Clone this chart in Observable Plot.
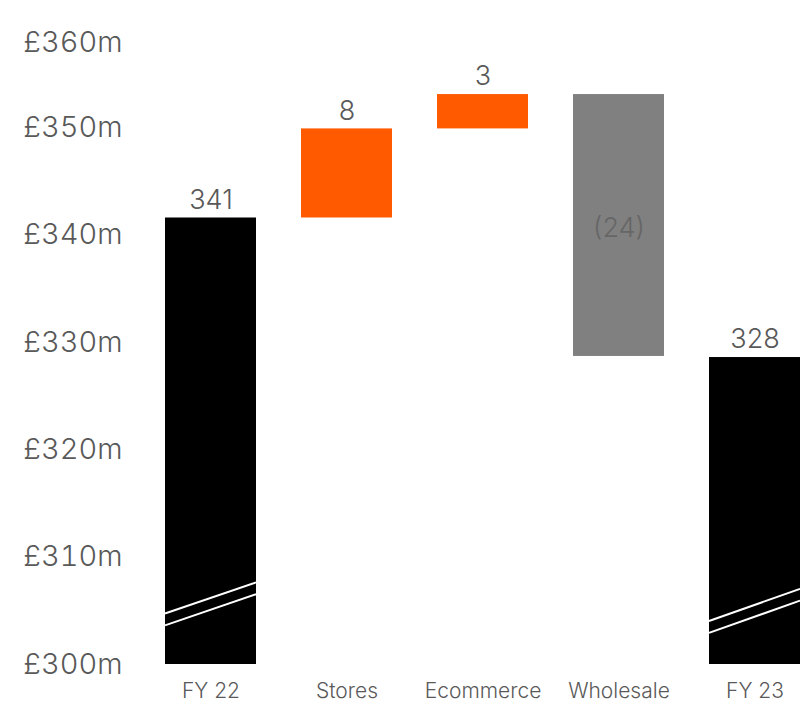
<!DOCTYPE html>
<html>
<head>
<meta charset="utf-8">
<script src="https://cdn.jsdelivr.net/npm/d3@7"></script>
<script src="https://cdn.jsdelivr.net/npm/@observablehq/plot@0.6"></script>
<style>
  html, body { margin: 0; padding: 0; background: #fff; }
</style>
</head>
<body>
<div id="chart"></div>
<script>
// ---- data (£m) ----
const categories = ["FY 22", "Stores", "Ecommerce", "Wholesale", "FY 23"];
const openingTotal = 341.6;                 // FY 22
const changeValues = [8.3, 3.2, -24.4];     // Stores, Ecommerce, Wholesale
const closingTotal = 328.6;                 // FY 23
const valueLabels = ["341", "8", "3", "(24)", "328"];
const yTicks = [300, 310, 320, 330, 340, 350];
const yTopTick = [360];
const barColors = ["#000000", "#ff5a00", "#ff5a00", "#808080", "#000000"];
// axis-break markers (two white slanted lines near the base of each total bar)
const breakBars = ["FY 22", "FY 23"];
const breakLeft = [304.7, 304.0];
const breakRight = [307.6, 307.0];
const breakGap = 1.1;

// ---- build waterfall rows ----
const rows = [];
rows.push({cat: categories[0], y1: 300, y2: openingTotal, label: valueLabels[0], color: barColors[0], inside: false});
let running = openingTotal;
changeValues.forEach((v, i) => {
  const start = running;
  running = running + v;
  rows.push({cat: categories[i + 1], y1: start, y2: running, label: valueLabels[i + 1], color: barColors[i + 1], inside: v < 0});
});
rows.push({cat: categories[4], y1: 300, y2: closingTotal, label: valueLabels[4], color: barColors[4], inside: false});

const breaks = breakBars.map((b, i) => ({bar: b, left: breakLeft[i], right: breakRight[i]}));

function breakMark(index, scales) {
  const x = scales.x, y = scales.y;
  const bw = typeof x.bandwidth === "function" ? x.bandwidth() : x.bandwidth;
  const g = d3.create("svg:g");
  for (const b of breaks) {
    for (const off of [0, -breakGap]) {
      g.append("line")
        .attr("x1", x(b.bar)).attr("x2", x(b.bar) + bw)
        .attr("y1", y(b.left + off)).attr("y2", y(b.right + off))
        .attr("stroke", "#fff").attr("stroke-width", 2);
    }
  }
  return g.node();
}

const font = "Inter, Roboto, 'Noto Sans', sans-serif";
const yAxisStyle = {tickFormat: d => `£${d}m`, tickSize: 0, tickPadding: 39, fontSize: 29, fontWeight: 300, label: null};

const chart = Plot.plot({
  width: 804,
  height: 703,
  marginLeft: 161,
  marginRight: 0,
  marginTop: 20,
  marginBottom: 39,
  style: {fontFamily: font, color: "#595959", background: "#fff"},
  x: {domain: categories, paddingInner: 1 / 3, paddingOuter: 0.022, align: 0.5},
  y: {domain: [300, 360]},
  color: {type: "identity"},
  marks: [
    Plot.barY(rows, {x: "cat", y1: "y1", y2: "y2", fill: "color"}),
    breakMark,
    Plot.text(rows.filter(d => !d.inside), {
      x: "cat", y: "y2", text: "label", dy: -18, fontSize: 27, fontWeight: 300, fill: "#595959"
    }),
    Plot.text(rows.filter(d => d.inside), {
      x: "cat", y: d => (d.y1 + d.y2) / 2, text: "label", dy: 3, fontSize: 27, fontWeight: 300, fill: "#666666"
    }),
    Plot.axisY({...yAxisStyle, ticks: yTicks}),
    Plot.axisY({...yAxisStyle, ticks: yTopTick, dy: 22}),
    Plot.axisX({tickSize: 0, tickPadding: 19, fontSize: 21, fontWeight: 300, label: null})
  ]
});
document.getElementById("chart").appendChild(chart);
</script>
</body>
</html>
